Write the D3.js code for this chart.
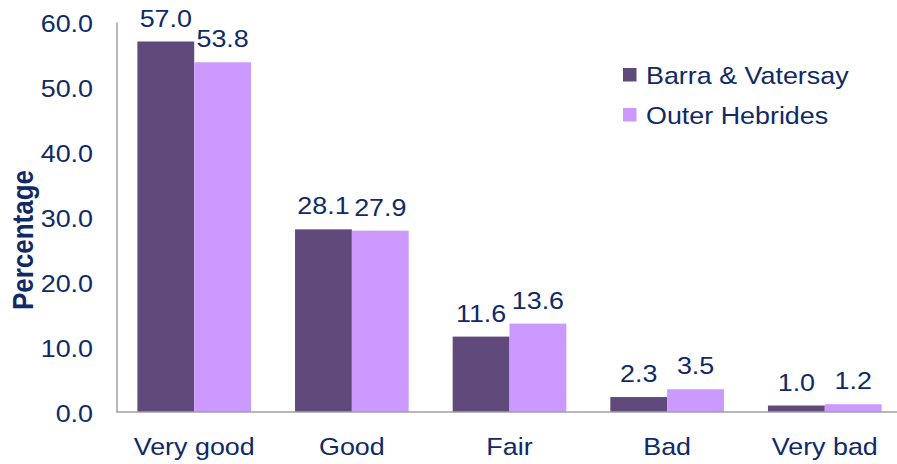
<!DOCTYPE html>
<html>
<head>
<meta charset="utf-8">
<script src="https://cdn.jsdelivr.net/npm/d3@7"></script>
<style>
  body { margin: 0; background: #fff; }
  text { font-family: "Liberation Sans", Arial, sans-serif; fill: #0F2A66; }
</style>
</head>
<body>
<svg id="chart" width="897" height="464"></svg>
<script>
// data
var categories = ["Very good", "Good", "Fair", "Bad", "Very bad"];
var seriesNames = ["Barra & Vatersay", "Outer Hebrides"];
var barraValues = [57.0, 28.1, 11.6, 2.3, 1.0];
var hebridesValues = [53.8, 27.9, 13.6, 3.5, 1.2];
var yTicks = [0, 10, 20, 30, 40, 50, 60];

var COLORS = ["#604A7B", "#CC99FF"],
	AXIS = "#A0A0A0",
	STRETCH = 1.12,
	LEFT = 116.5, RIGHT = 897, TOP = 22, BOTTOM = 412;

var svg = d3.select("#chart");

var rows = categories.map(function(c, i) {
	return {category: c, values: [barraValues[i], hebridesValues[i]]};
});

// the plot area runs a little past the right edge of the picture
var x0 = d3.scaleBand()
	.domain(categories)
	.range([LEFT, 902.5])
	.paddingInner(0.279)
	.paddingOuter(0.1325);

var x1 = d3.scaleBand()
	.domain(d3.range(seriesNames.length))
	.range([0, x0.bandwidth()]);

var y = d3.scaleLinear()
	.domain([0, 60])
	.range([BOTTOM, TOP]);

// text is drawn slightly wider than tall, like the original
function label(g, x, y, str, anchor, size, weight) {
	return g.append("text")
		.attr("transform", "translate(" + x + "," + y + ") scale(" + STRETCH + ",1)")
		.attr("text-anchor", anchor)
		.attr("font-size", size)
		.attr("font-weight", weight || "normal")
		.text(str);
}

// bars
var groups = svg.append("g").selectAll("g")
	.data(rows)
	.enter()
	.append("g")
	.attr("transform", function(d) { return "translate(" + x0(d.category) + ",0)"; });

groups.selectAll("rect")
	.data(function(d) { return d.values; })
	.enter()
	.append("rect")
	.attr("x", function(d, i) { return x1(i); })
	.attr("y", function(d) { return y(d); })
	.attr("width", x1.bandwidth())
	.attr("height", function(d) { return y(0) - y(d); })
	.attr("fill", function(d, i) { return COLORS[i]; });

// value labels
groups.each(function(d) {
	var g = d3.select(this);
	d.values.forEach(function(v, i) {
		label(g, x1(i) + x1.bandwidth() / 2, y(v) - 15, d3.format(".1f")(v), "middle", 24);
	});
});

// axes
var yAxis = d3.axisLeft(y).tickValues(yTicks).tickSize(0).tickFormat("");
svg.append("g")
	.attr("transform", "translate(" + LEFT + ",0)")
	.call(yAxis)
	.call(function(g) { g.select(".domain").attr("stroke", AXIS).attr("stroke-width", 1.5); });

svg.append("line")
	.attr("x1", LEFT).attr("x2", RIGHT)
	.attr("y1", BOTTOM).attr("y2", BOTTOM)
	.attr("stroke", AXIS)
	.attr("stroke-width", 1.5);

var tickG = svg.append("g");
yTicks.forEach(function(t) {
	label(tickG, 93, y(t) + 10, d3.format(".1f")(t), "end", 24);
});

var catG = svg.append("g");
categories.forEach(function(c) {
	label(catG, x0(c) + x0.bandwidth() / 2, 455, c, "middle", 24);
});

// y title
svg.append("text")
	.attr("transform", "translate(33,240) rotate(-90) scale(1," + STRETCH + ")")
	.attr("text-anchor", "middle")
	.attr("font-size", 26)
	.attr("font-weight", "bold")
	.text("Percentage");

// legend
var legend = svg.append("g").selectAll("g")
	.data(seriesNames)
	.enter()
	.append("g")
	.attr("transform", function(d, i) { return "translate(623," + (68 + i * 40) + ")"; });

legend.append("rect")
	.attr("width", 13.5)
	.attr("height", 13.5)
	.attr("fill", function(d, i) { return COLORS[i]; });

legend.each(function(d) {
	label(d3.select(this), 23, 15.5, d, "start", 24);
});
</script>
</body>
</html>
